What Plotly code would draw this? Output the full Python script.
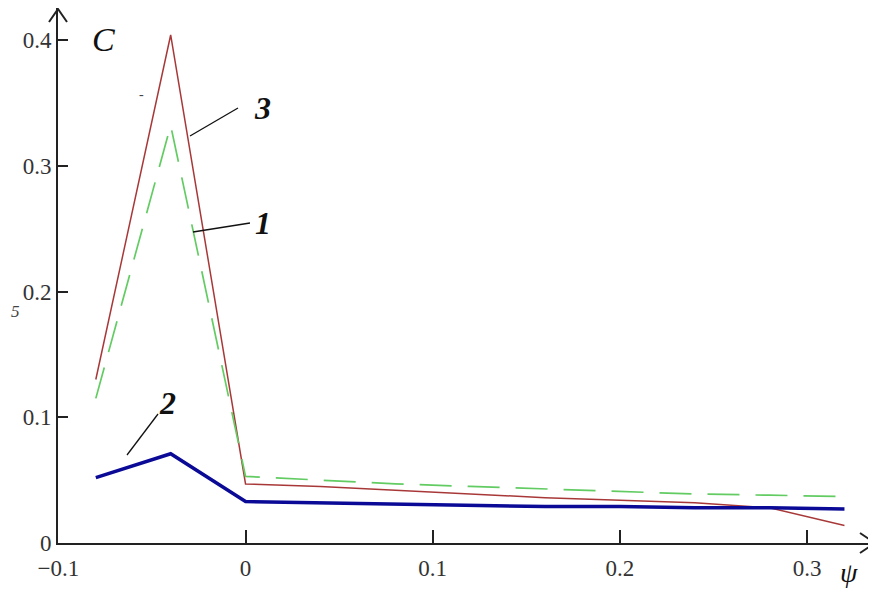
import plotly.graph_objects as go

# ---- data ----
psi = [-0.08, -0.04, 0.0, 0.04, 0.08, 0.12, 0.16, 0.20, 0.24, 0.28, 0.32]
curve1 = [0.115, 0.332, 0.053, 0.050, 0.047, 0.045, 0.043, 0.041, 0.039, 0.038, 0.037]   # green dashed
curve2 = [0.052, 0.071, 0.033, 0.032, 0.031, 0.030, 0.029, 0.029, 0.028, 0.028, 0.027]   # blue thick
curve3 = [0.130, 0.404, 0.047, 0.045, 0.042, 0.039, 0.036, 0.034, 0.032, 0.028, 0.014]   # red thin
x_ticks = [-0.1, 0, 0.1, 0.2, 0.3]
x_tick_text = ["\u22120.1", "0", "0.1", "0.2", "0.3"]
y_ticks = [0, 0.1, 0.2, 0.3, 0.4]
y_tick_text = ["0", "0.1", "0.2", "0.3", "0.4"]

OFF = 8  # browser default body margin
W, H = 876 - OFF, 594 - OFF
# plot area in screen pixels: x 58..870, y 8..543
L, T = 58 - OFF, 8 - OFF
PW, PH = 870 - 58, 543 - 8
R, B = W - L - PW, H - T - PH


def px(x, y):
    """screen pixel -> paper coordinates"""
    return (x - 58) / PW, (543 - y) / PH


fig = go.Figure()
fig.add_trace(go.Scatter(x=psi, y=curve3, mode="lines",
                         line=dict(color="#a83838", width=1.5), name="3"))
fig.add_trace(go.Scatter(x=psi, y=curve1, mode="lines",
                         line=dict(color="#62cc62", width=1.7, dash="32px,16px"), name="1"))
fig.add_trace(go.Scatter(x=psi, y=curve2, mode="lines",
                         line=dict(color="#0a0a96", width=3.5), name="2"))

serif = "Liberation Serif, Times New Roman, serif"
axis_common = dict(showgrid=False, zeroline=False, showline=True, linecolor="#222",
                   linewidth=2, ticks="inside", tickcolor="#222", tickwidth=2,
                   automargin=False,
                   tickfont=dict(family=serif, size=23, color="#333"))

fig.update_layout(
    width=W, height=H,
    margin=dict(l=L, r=R, t=T, b=B, pad=0),
    paper_bgcolor="white", plot_bgcolor="white",
    showlegend=False,
    xaxis=dict(range=[-0.1002, -0.1 + PW / 1872.5], tickvals=x_ticks, ticktext=x_tick_text,
               ticklen=13, ticklabelstandoff=3, **axis_common),
    yaxis=dict(range=[0, PH / 1257.5], tickvals=y_ticks, ticktext=y_tick_text,
               ticklen=10, **axis_common),
)

shapes = []
# arrowheads on axes
ax1, ay1 = px(860, 533); ax2, ay2 = px(875, 543); ax3, ay3 = px(860, 553)
shapes.append(dict(type="path", xref="paper", yref="paper",
                   path=f"M{ax1},{ay1} L{ax2},{ay2} L{ax3},{ay3}",
                   line=dict(color="#222", width=2)))
shapes.append(dict(type="line", xref="paper", yref="paper", x0=1, y0=0, x1=ax2, y1=0,
                   line=dict(color="#222", width=2)))
b1x, b1y = px(49, 22); b2x, b2y = px(58, 9); b3x, b3y = px(67, 22)
shapes.append(dict(type="path", xref="paper", yref="paper",
                   path=f"M{b1x},{b1y} L{b2x},{b2y} L{b3x},{b3y}",
                   line=dict(color="#222", width=2)))
# leader lines
for (xa, ya), (xb, yb) in [((190, 136), (238, 108)),
                           ((193, 232), (250, 223)),
                           ((127, 455), (158, 414))]:
    x0, y0 = px(xa, ya); x1, y1 = px(xb, yb)
    shapes.append(dict(type="line", xref="paper", yref="paper", x0=x0, y0=y0, x1=x1, y1=y1,
                       line=dict(color="#111", width=1.3)))
fig.update_layout(shapes=shapes)

ann = []
for text, (x, y), size, bold in [("C", (103, 39), 34, False),
                                 ("3", (262, 108), 32, True),
                                 ("1", (263, 223), 32, True),
                                 ("2", (167, 403), 32, True),
                                 ("\u03c8", (849, 572), 28, False)]:
    xp, yp = px(x, y)
    t = f"<b><i>{text}</i></b>" if bold else f"<i>{text}</i>"
    ann.append(dict(x=xp, y=yp, xref="paper", yref="paper", text=t, showarrow=False,
                    xanchor="center", yanchor="middle",
                    font=dict(family=serif, size=size, color="#111")))
for text, (x, y), size in [("5", (15, 312), 17), ("-", (141, 94), 14)]:
    xp, yp = px(x, y)
    ann.append(dict(x=xp, y=yp, xref="paper", yref="paper", text=f"<i>{text}</i>",
                    showarrow=False, xanchor="center", yanchor="middle",
                    font=dict(family=serif, size=size, color="#444")))
fig.update_layout(annotations=ann)

fig.write_html("out.html")
